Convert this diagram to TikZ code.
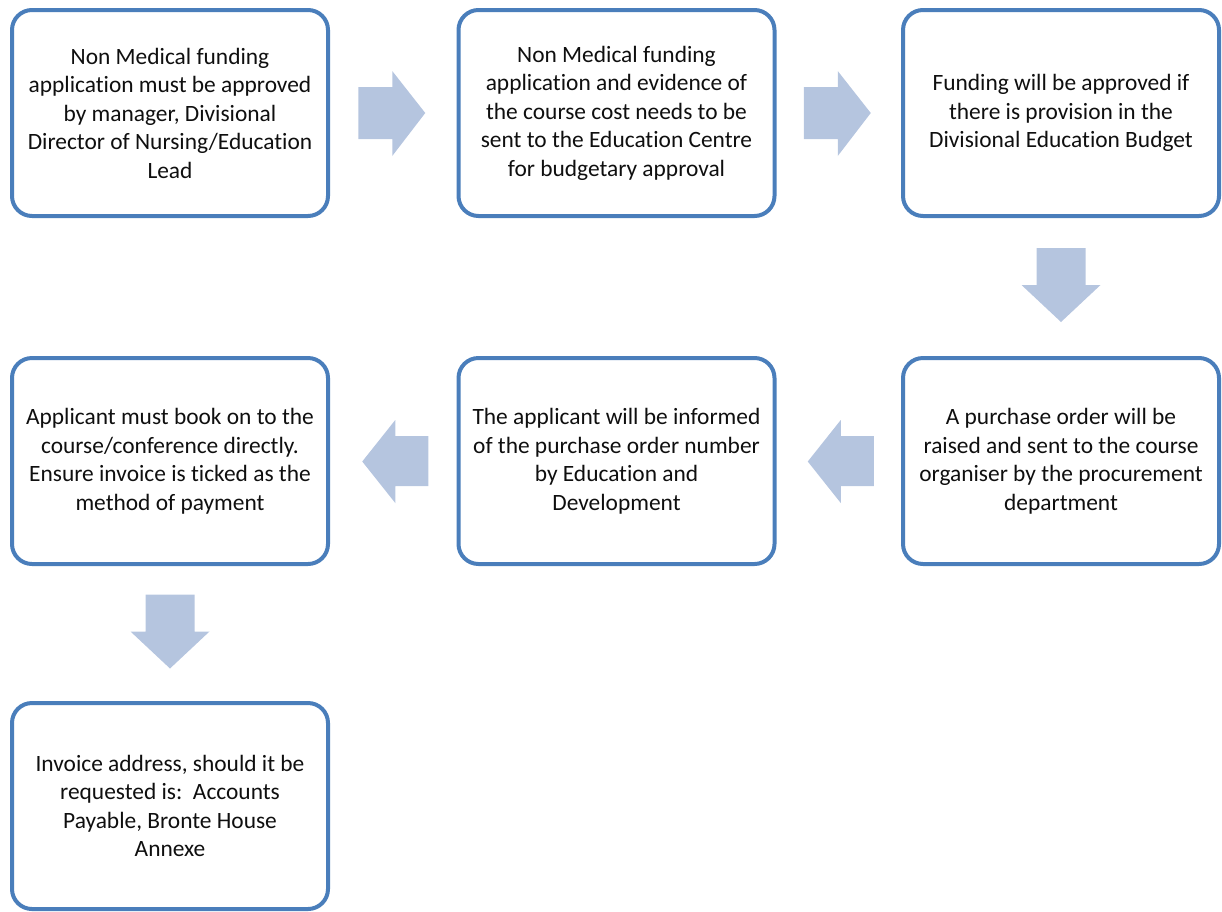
\documentclass[tikz,border=0pt]{standalone}
\usepackage{fontspec}
\setmainfont[Ligatures=NoCommon]{Carlito}
\usetikzlibrary{calc}
\definecolor{boxline}{RGB}{74,126,187}
\definecolor{arrowfill}{RGB}{181,197,223}
\definecolor{txt}{RGB}{15,15,15}
\tikzset{
  stepbox/.style={draw=boxline, line width=4pt, rounded corners=20pt, fill=white,
    minimum width=316pt, minimum height=206pt, inner sep=0pt, align=center,
    text=txt, font=\fontsize{23.4}{28.5}\selectfont},
  blockarrow/.style={fill=arrowfill, draw=none}
}
\begin{document}
\begin{tikzpicture}[x=1pt,y=-1pt]
\useasboundingbox (0,0) rectangle (1222,911);

% row 1
\node[stepbox] (b1) at (170,113) {Non Medical funding\\application must be approved\\by manager, Divisional\\Director of Nursing/Education\\Lead};
\node[stepbox] (b2) at (616.5,113) {Non Medical funding\\application and evidence of\\the course cost needs to be\\sent to the Education Centre\\for budgetary approval};
\node[stepbox] (b3) at (1061,113) {Funding will be approved if\\there is provision in the\\Divisional Education Budget};

% row 2
\node[stepbox] (b6) at (1061,461) {A purchase order will be\\raised and sent to the course\\organiser by the procurement\\department};
\node[stepbox] (b5) at (616.5,461) {The applicant will be informed\\of the purchase order number\\by Education and\\Development};
\node[stepbox] (b4) at (170,461) {Applicant must book on to the\\course/conference directly.\\Ensure invoice is ticked as the\\method of payment};

% row 3
\node[stepbox] (b7) at (170,806) {Invoice address, should it be\\requested is:~~Accounts\\Payable, Bronte House\\Annexe};

% midpoints between neighbouring steps
\coordinate (m12) at ($(b1.east)!0.5!(b2.west)$);
\coordinate (m23) at ($(b2.east)!0.5!(b3.west)$);
\coordinate (m36) at ($(b3.south)!0.5!(b6.north)$);
\coordinate (m65) at ($(b6.west)!0.5!(b5.east)$);
\coordinate (m54) at ($(b5.west)!0.5!(b4.east)$);
\coordinate (m47) at ($(b4.south)!0.5!(b7.north)$);

% right-pointing block arrows
\foreach \m in {m12,m23}{
  \fill[blockarrow] ($(\m)+(-35,-26)$) -- ++(34,0) -- ++(0,-16) -- ++(33,42)
    -- ++(-33,43) -- ++(0,-17) -- ++(-34,0) -- cycle;
}
% left-pointing block arrows
\foreach \m in {m65,m54}{
  \fill[blockarrow] ($(\m)+(35,-25)$) -- ++(-33,0) -- ++(0,-16) -- ++(-33,41.5)
    -- ++(33,41.5) -- ++(0,-17) -- ++(33,0) -- cycle;
}
% downward block arrows
\foreach \m in {m36,m47}{
  \fill[blockarrow] ($(\m)+(-24.5,-39)$) -- ++(49,0) -- ++(0,37) -- ++(15,0)
    -- ++(-39.5,37) -- ++(-39.5,-37) -- ++(15,0) -- cycle;
}
\end{tikzpicture}
\end{document}
